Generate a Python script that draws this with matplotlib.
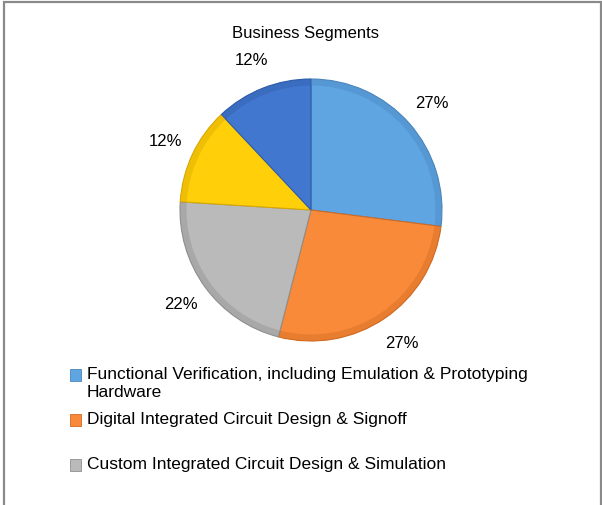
import matplotlib.pyplot as plt
from matplotlib.patches import Rectangle

plt.rcParams['font.family'] = ['Liberation Sans', 'DejaVu Sans']

# data
segments = ['Functional Verification, including Emulation & Prototyping\nHardware',
            'Digital Integrated Circuit Design & Signoff',
            'Custom Integrated Circuit Design & Simulation',
            'System Design & Analysis',
            'IP']
shares = [27, 27, 22, 12, 12]
colors = ['#5fa5e2', '#f88a3a', '#bababa', '#ffcf0a', '#4277cf']
edges = ['#4a86bd', '#d06a22', '#8f8f8f', '#d9a800', '#2f5ca8']

W, H = 602, 505
fig = plt.figure(figsize=(W / 100, H / 100), dpi=100)

# outer frame (open at the bottom, like the cropped original)
fig.patches.append(Rectangle((4 / W, -0.05), 597 / W, 1.05 - 2 / H,
                             transform=fig.transFigure, fill=False,
                             edgecolor='#8a8a8a', linewidth=1.6))

fig.text(306 / W, 1 - 33 / H, 'Business Segments', ha='center', va='center',
         fontsize=12)

# pie axes placed in pixels: centre (311, 210), radius 131
cx, cy, r = 311, 210, 131
ax = fig.add_axes([(cx - r) / W, (H - cy - r) / H, 2 * r / W, 2 * r / H])
wedges, _, pcts = ax.pie(shares, colors=colors, startangle=90, counterclock=False,
                         autopct='%.0f%%', pctdistance=1.23,
                         wedgeprops=dict(linewidth=0.8),
                         textprops=dict(fontsize=12))
for w, ec in zip(wedges, edges):
    w.set_edgecolor(ec)
# soft darker rim to hint at the bevel
ax.pie(shares, colors=edges, startangle=90, counterclock=False, radius=1.0,
       wedgeprops=dict(width=0.05, linewidth=0, alpha=0.4))
ax.set_xlim(-1, 1)
ax.set_ylim(-1, 1)
ax.set_aspect('equal')
ax.axis('off')

# legend (only the first three entries are visible in the original)
legend_y = [375, 420, 465]
for i, yy in enumerate(legend_y):
    fig.patches.append(Rectangle((70 / W, 1 - (yy + 6) / H), 11 / W, 12 / H,
                                 transform=fig.transFigure,
                                 facecolor=colors[i], edgecolor=edges[i],
                                 linewidth=0.6))
    fig.text(87 / W, 1 - (yy - 8) / H, segments[i], ha='left', va='top',
             fontsize=12.5, linespacing=1.25)

fig.savefig('out.png', dpi=100)
